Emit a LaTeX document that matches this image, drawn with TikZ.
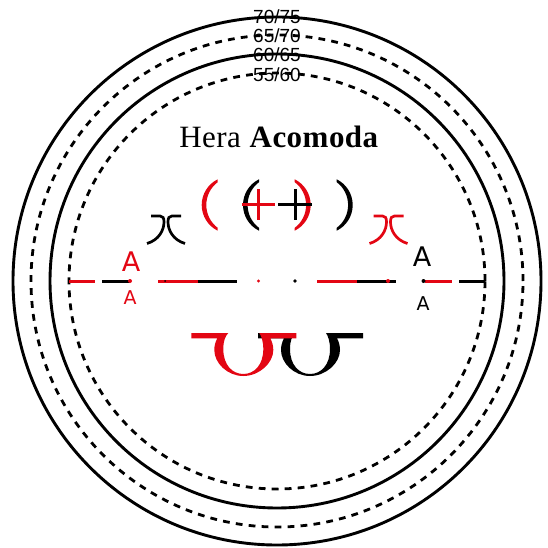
\documentclass[tikz,border=0pt]{standalone}
\usepackage{fontspec}
\setmainfont[LetterSpace=1.5]{Liberation Serif}
\newfontfamily\labelfont{Liberation Sans}
\newfontfamily\letterfont{DejaVu Sans}
\usetikzlibrary{positioning}
\definecolor{signred}{HTML}{E30613}
\tikzset{
    ring/.style={draw=black, line width=2.9pt},
    dashring/.style={ring, line width=2.8pt, dash pattern=on 6.8pt off 6.2pt},
    stroke/.style={line width=3pt},
    rangelabel/.style={font=\labelfont\fontsize{19}{19}\selectfont, inner sep=0pt},
    bigletter/.style={font=\letterfont\fontsize{27}{27}\selectfont, inner sep=0pt},
    smallletter/.style={font=\letterfont\fontsize{19}{19}\selectfont, inner sep=0pt},
    crescent/.pic={
        \path[pic actions] (16,-25.7) .. controls (6.2,-20.9) and (0,-10.9) .. (0,0)
            .. controls (0,10.9) and (6.2,20.9) .. (16,25.7) -- (16,22.8)
            .. controls (8.8,17.5) and (4.6,8.9) .. (4.6,0)
            .. controls (4.6,-8.9) and (8.8,-17.5) .. (16,-22.8) -- cycle;
    },
    horns/.pic={
        \draw[pic actions, line width=2.7pt] (-15,0) -- (-6,0) .. controls (-3,0) and (-2,2) .. (-2,6)
            .. controls (-2,14) and (-7,24) .. (-19,27.5);
        \draw[pic actions, line width=2.7pt] (15,0) -- (6,0) .. controls (3,0) and (2,2) .. (2,6)
            .. controls (2,14) and (7,24) .. (19,27.5);
    },
    bowl/.pic={
        \path[pic actions] (-52,0) -- (-15,0) .. controls (-18,3) and (-20,8) .. (-20,16)
            .. controls (-20,32) and (-11,41) .. (0,41)
            .. controls (11,41) and (20,32) .. (20,16)
            .. controls (20,8) and (18,3) .. (16,0) -- (53,0) -- (53,5.3) -- (27,5.3)
            .. controls (29,9) and (30,13) .. (30,17)
            .. controls (30,30) and (16,43) .. (0,43)
            .. controls (-16,43) and (-29,30) .. (-29,17)
            .. controls (-29,13) and (-28,9) .. (-26,5.3) -- (-52,5.3) -- cycle;
    }
}
\begin{document}
\begin{tikzpicture}[x=1pt, y=-1pt]
    \useasboundingbox (0,0) rectangle (548,548);

    % Rings
    \draw[ring] (277,281) circle (264pt);
    \draw[dashring] (277,281) circle (246pt);
    \draw[ring] (277,281) circle (227pt);
    \draw[dashring] (277,281) circle (208pt);

    % Ring labels
    \node[rangelabel] (range70) at (277,17) {70/75};
    \node[rangelabel] (range65) at (277,36) {65/70};
    \node[rangelabel] (range60) at (277,55) {60/65};
    \node[rangelabel] (range55) at (277,75) {55/60};

    % Title
    \node[font=\fontsize{31}{31}\selectfont, inner sep=0pt] (title) at (279,137) {Hera \textbf{Acomoda}};

    % Parentheses and crosses
    \pic[fill=signred] at (201.7,205) {crescent};
    \pic[fill=black] at (243,205) {crescent};
    \pic[fill=signred, xscale=-1] at (310.7,205) {crescent};
    \pic[fill=black, xscale=-1] at (352.7,205) {crescent};
    \draw[stroke, black] (278,204.5) -- (311.7,204.5) (295.3,189) -- (295.3,220);
    \draw[stroke, signred] (241.7,204.5) -- (275,204.5) (258.3,189) -- (258.3,220);

    % Horns
    \pic[draw=black] at (166,216) {horns};
    \pic[draw=signred] at (388.5,216) {horns};

    % Letters
    \node[bigletter, text=signred] (bigleft) at (131,262) {A};
    \node[smallletter, text=signred] (smallleft) at (130,298) {A};
    \node[bigletter] (bigright) at (422,257) {A};
    \node[smallletter] (smallright) at (423,304) {A};

    % Middle line
    \draw[stroke, signred] (69,281) -- (95,281) (158,281) -- (197.5,281) (317,281) -- (357,281) (425,281) -- (451.5,281);
    \draw[stroke, black] (102,281) -- (130,281) (197.5,281) -- (237,281) (357,281) -- (396,281) (459,281) -- (485,281);
    \fill[signred] (130,281) circle (2pt) (258.5,281) circle (1.7pt) (388,281) circle (2pt);
    \fill[black] (165,281) circle (1pt) (295,281) circle (1.8pt) (423.5,281) circle (2pt);

    % Bowls
    \pic[fill=black] at (310,333) {bowl};
    \pic[fill=signred] at (243.3,333) {bowl};
\end{tikzpicture}
\end{document}
